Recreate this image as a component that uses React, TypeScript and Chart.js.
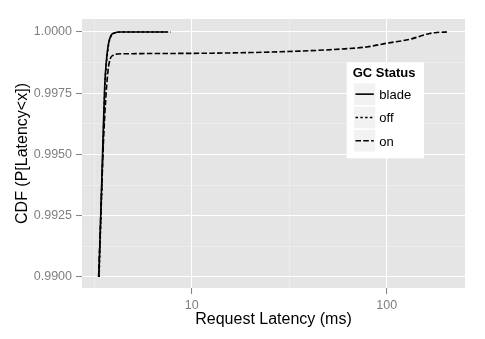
import React, { useEffect, useRef } from "react";
import { Chart, registerables } from "chart.js";

Chart.register(...registerables);

// ---- data ----
const seriesNames = ["blade", "off", "on"];

const bladeLatency = [3.34, 3.40, 3.46, 3.52, 3.58, 3.65, 3.74, 3.85, 4.0, 4.3, 5.0, 7.46];
const bladeCdf = [0.9900, 0.9920, 0.9940, 0.9960, 0.9978, 0.9988, 0.9995, 0.99985, 0.99996, 1.0, 1.0, 1.0];

const offLatency = [3.35, 3.41, 3.47, 3.53, 3.59, 3.66, 3.75, 3.87, 4.03, 4.4, 5.2, 7.83];
const offCdf = [0.9900, 0.9920, 0.9940, 0.9960, 0.9978, 0.9988, 0.9995, 0.99985, 0.99996, 1.0, 1.0, 1.0];

const onLatency = [3.33, 3.40, 3.47, 3.54, 3.62, 3.72, 3.82, 3.95, 4.15, 4.5, 6, 11, 20, 36, 57.5, 79, 100, 131, 166, 180, 206];
const onCdf = [0.9900, 0.9920, 0.9940, 0.9958, 0.9972, 0.9984, 0.9989, 0.99905, 0.9991, 0.99911, 0.99912, 0.99913, 0.99916, 0.99922, 0.9993, 0.99939, 0.99954, 0.9997, 0.99994, 0.99998, 1.0];

const xMajorTicks = [10, 100];
const xMinorTicks = [3.1623, 31.623];
const yMajorTicks = [0.99, 0.9925, 0.995, 0.9975, 1.0];
const yMinorTicks = [0.99125, 0.99375, 0.99625, 0.99875];

const xTitle = "Request Latency (ms)";
const yTitle = "CDF (P[Latency<x])";
const legendTitle = "GC Status";

const dashes: number[][] = [[], [2.5, 2.3], [5.5, 2.3]];

const FONT = "'Liberation Sans', Arial, Helvetica, sans-serif";

function toPoints(xs: number[], ys: number[]) {
  return xs.map((x, i) => ({ x, y: ys[i] }));
}

const decorPlugin = {
  id: "decor",
  beforeDraw(chart: any) {
    const { ctx, chartArea: a } = chart;
    ctx.save();
    ctx.fillStyle = "#e5e5e5";
    ctx.fillRect(a.left, a.top, a.right - a.left, a.bottom - a.top);
    ctx.restore();
  },
  afterDraw(chart: any) {
    const { ctx, chartArea: a } = chart;
    ctx.save();
    // axis titles
    ctx.fillStyle = "#000000";
    ctx.font = `16px ${FONT}`;
    ctx.textAlign = "center";
    ctx.textBaseline = "alphabetic";
    ctx.fillText(xTitle, (a.left + a.right) / 2, 324);
    ctx.save();
    ctx.translate(27, (a.top + a.bottom) / 2);
    ctx.rotate(-Math.PI / 2);
    ctx.fillText(yTitle, 0, 0);
    ctx.restore();

    // legend
    const bx = a.right - 118.3;
    const by = a.top + 43.3;
    const bw = 77.3;
    const bh = 96;
    ctx.fillStyle = "#ffffff";
    ctx.fillRect(bx, by, bw, bh);
    ctx.fillStyle = "#000000";
    ctx.font = `bold 13px ${FONT}`;
    ctx.textAlign = "left";
    ctx.fillText(legendTitle, bx + 6, by + 15);
    const keyX = bx + 7.3;
    const keyW = 21.3;
    const keyH = 21.7;
    const rowTop0 = by + 21;
    const rowStep = 23.3;
    seriesNames.forEach((name, i) => {
      const top = rowTop0 + i * rowStep;
      ctx.fillStyle = "#f2f2f2";
      ctx.fillRect(keyX, top, keyW, keyH);
      const cy = top + keyH / 2;
      ctx.strokeStyle = "#000000";
      ctx.lineWidth = 1.6;
      ctx.setLineDash(dashes[i]);
      ctx.beginPath();
      ctx.moveTo(keyX + 1.5, cy);
      ctx.lineTo(keyX + keyW - 1.5, cy);
      ctx.stroke();
      ctx.setLineDash([]);
      ctx.fillStyle = "#000000";
      ctx.font = `13px ${FONT}`;
      ctx.fillText(name, keyX + keyW + 4, cy + 4.8);
    });
    ctx.restore();
  },
};

export default function App() {
  const ref = useRef<HTMLCanvasElement>(null);
  useEffect(() => {
    if (!ref.current) return;
    const xs = [bladeLatency, offLatency, onLatency];
    const ys = [bladeCdf, offCdf, onCdf];
    const chart = new Chart(ref.current, {
      type: "line",
      data: {
        datasets: seriesNames.map((name, i) => ({
          label: name,
          data: toPoints(xs[i], ys[i]),
          borderColor: "#000000",
          borderWidth: 1.6,
          borderDash: dashes[i],
          pointRadius: 0,
          fill: false,
          cubicInterpolationMode: "monotone" as const,
        })),
      },
      options: {
        animation: false,
        responsive: false,
        devicePixelRatio: 1,
        events: [],
        layout: { padding: { left: 0, top: 19, right: 20, bottom: 0 } },
        plugins: { legend: { display: false }, tooltip: { enabled: false } },
        scales: {
          x: {
            type: "logarithmic",
            min: 2.738,
            max: 252,
            border: { display: false },
            afterFit: (s: any) => { s.height = 51; },
            afterBuildTicks: (s: any) => {
              s.ticks = [...xMinorTicks, ...xMajorTicks].sort((p, q) => p - q).map((v) => ({ value: v }));
            },
            grid: {
              color: (c: any) => (xMajorTicks.includes(c.tick?.value) ? "#ffffff" : "#f2f2f2"),
              lineWidth: (c: any) => (xMajorTicks.includes(c.tick?.value) ? 1.1 : 0.6),
              tickColor: (c: any) => (xMajorTicks.includes(c.tick?.value) ? "#7f7f7f" : "rgba(0,0,0,0)"),
              tickLength: 6,
              tickWidth: 1,
            },
            ticks: {
              autoSkip: false,
              maxRotation: 0,
              padding: 4,
              color: "#7f7f7f",
              font: { family: FONT, size: 12.5 },
              callback: (v: any) => (xMajorTicks.includes(Number(v)) ? String(v) : ""),
            },
          },
          y: {
            type: "linear",
            min: 0.98955,
            max: 1.00053,
            border: { display: false },
            afterFit: (s: any) => { s.width = 82; },
            afterBuildTicks: (s: any) => {
              s.ticks = [...yMinorTicks, ...yMajorTicks].sort((p, q) => p - q).map((v) => ({ value: v }));
            },
            grid: {
              color: (c: any) => (yMajorTicks.includes(c.tick?.value) ? "#ffffff" : "#f2f2f2"),
              lineWidth: (c: any) => (yMajorTicks.includes(c.tick?.value) ? 1.1 : 0.6),
              tickColor: (c: any) => (yMajorTicks.includes(c.tick?.value) ? "#7f7f7f" : "rgba(0,0,0,0)"),
              tickLength: 6,
              tickWidth: 1,
            },
            ticks: {
              autoSkip: false,
              padding: 4,
              color: "#7f7f7f",
              font: { family: FONT, size: 12.5 },
              callback: (v: any) => (yMajorTicks.includes(Number(v)) ? Number(v).toFixed(4) : ""),
            },
          },
        },
      },
      plugins: [decorPlugin],
    } as any);
    return () => chart.destroy();
  }, []);
  return (
    <div style={{ position: "absolute", left: 0, top: 0, width: 485, height: 339, background: "#ffffff" }}>
      <canvas ref={ref} width={485} height={339} style={{ width: 485, height: 339 }} />
    </div>
  );
}
